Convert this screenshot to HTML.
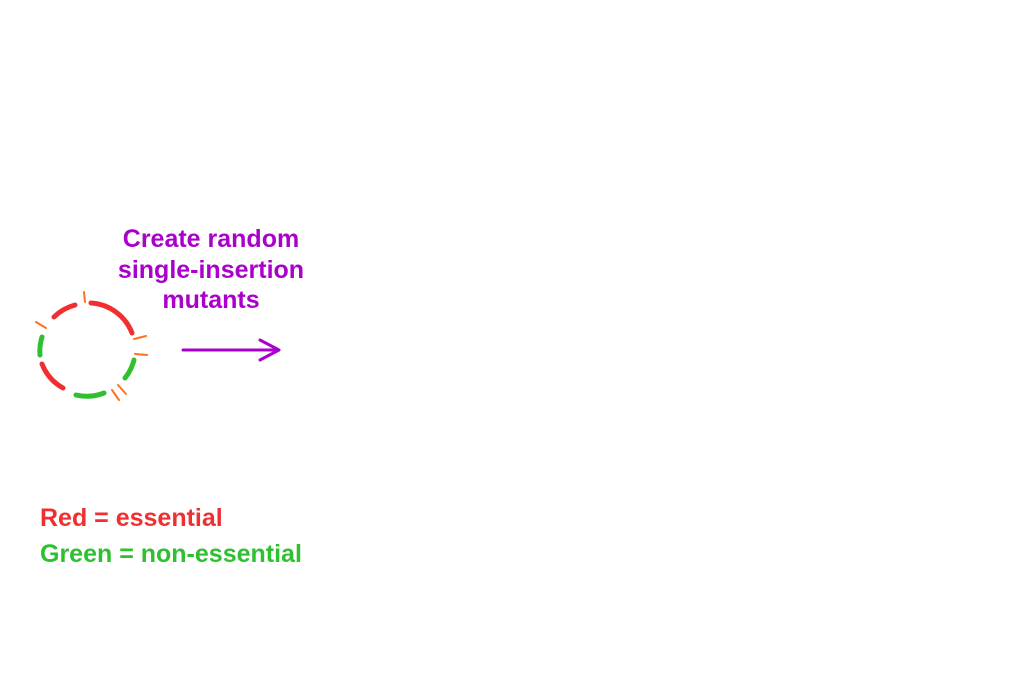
<!DOCTYPE html>
<html><head><meta charset="utf-8"><style>
html,body{margin:0;padding:0;background:#fff;width:1032px;height:700px;overflow:hidden}
svg{display:block}
text{font-family:"Liberation Sans",sans-serif;font-weight:bold;font-size:25px}
</style></head><body>
<svg width="1032" height="700">
<g fill="none" stroke-width="5" stroke-linecap="round">
<path d="M54,317 A47,47 0 0 1 75,305" stroke="#f03030"/>
<path d="M91,303 A47,47 0 0 1 132,333" stroke="#f03030"/>
<path d="M134,360 A47,47 0 0 1 125,378" stroke="#2ec02e"/>
<path d="M104,393 A47,47 0 0 1 76,395" stroke="#2ec02e"/>
<path d="M63,388 A47,47 0 0 1 42,364" stroke="#f03030"/>
<path d="M40,355 A47,47 0 0 1 42,337" stroke="#2ec02e"/>
</g>
<g stroke="#ff7020" stroke-width="2" stroke-linecap="round">
<line x1="84" y1="292" x2="85" y2="302"/>
<line x1="36" y1="322" x2="46" y2="328"/>
<line x1="134" y1="339" x2="146" y2="336"/>
<line x1="135" y1="354" x2="147" y2="355"/>
<line x1="112" y1="390" x2="119" y2="400"/>
<line x1="118" y1="385" x2="126" y2="394"/>
</g>
<g fill="#aa00cc" text-anchor="middle">
<text x="211" y="247">Create random</text>
<text x="211" y="278">single-insertion</text>
<text x="211" y="308">mutants</text>
</g>
<g stroke="#aa00cc" stroke-width="3" fill="none" stroke-linecap="round" stroke-linejoin="round">
<line x1="183" y1="350" x2="278" y2="350"/>
<polyline points="260,340 279,350 260,360"/>
</g>
<text x="40" y="526" fill="#f03030">Red = essential</text>
<text x="40" y="562" fill="#2ec02e">Green = non-essential</text>
</svg>
</body></html>
